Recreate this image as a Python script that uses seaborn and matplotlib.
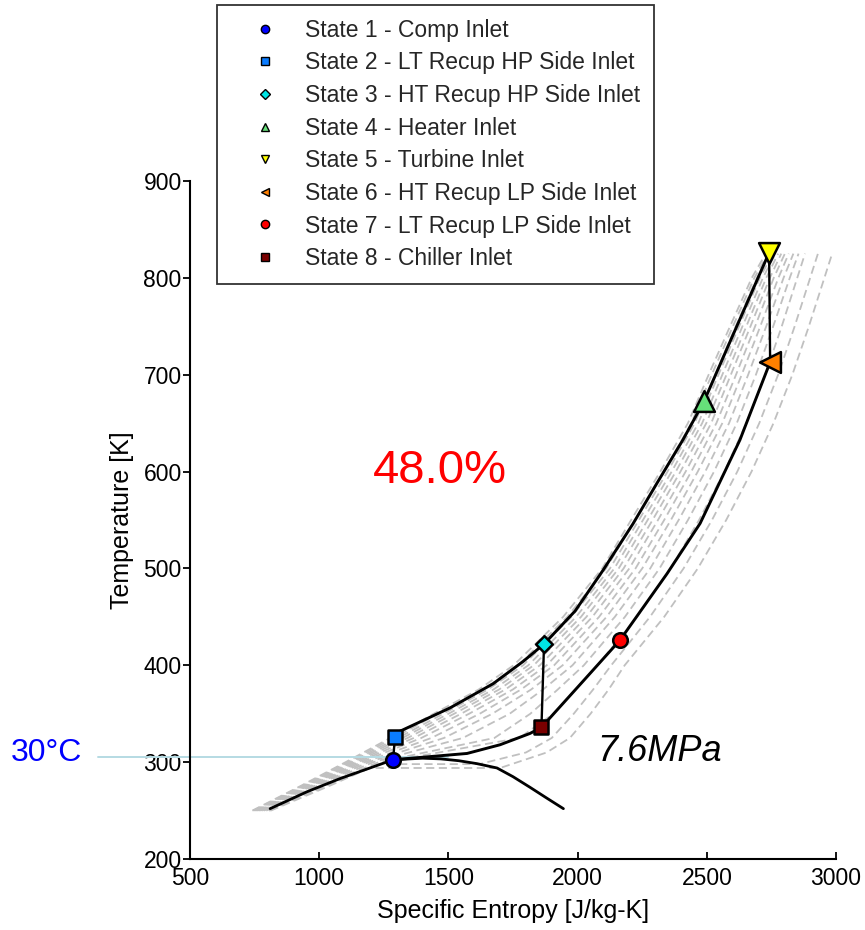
import matplotlib
matplotlib.use("Agg")
import matplotlib.pyplot as plt
import seaborn as sns
from matplotlib.lines import Line2D

sns.set_theme(style="ticks")
plt.rcParams["font.family"] = ["Liberation Sans", "DejaVu Sans"]

# ---------------- data ----------------
# temperature levels [K] at which the grey isobars are tabulated
T_GRID = [250, 275, 300, 325, 350, 375, 400, 450, 500, 550, 600, 650, 700, 750, 800, 825]

# grey isobars, entropy [J/kg-K] at T_GRID (highest pressure first)
iso_p26 = [741, 925, 1102, 1275, 1443, 1617, 1752, 1944, 2095, 2207, 2320, 2427, 2507, 2590, 2674, 2728]
iso_p25 = [745, 930, 1110, 1288, 1460, 1635, 1770, 1960, 2110, 2222, 2334, 2440, 2519, 2601, 2684, 2737]
iso_p23 = [749, 935, 1119, 1305, 1480, 1653, 1789, 1976, 2125, 2237, 2348, 2453, 2532, 2612, 2694, 2746]
iso_p22 = [753, 941, 1128, 1322, 1500, 1674, 1809, 1994, 2142, 2253, 2364, 2467, 2545, 2625, 2705, 2755]
iso_p20 = [757, 947, 1139, 1342, 1522, 1696, 1830, 2013, 2159, 2271, 2380, 2482, 2560, 2638, 2717, 2765]
iso_p18 = [761, 953, 1150, 1366, 1549, 1720, 1854, 2034, 2178, 2290, 2398, 2498, 2576, 2653, 2730, 2776]
iso_p16 = [767, 961, 1162, 1395, 1580, 1749, 1880, 2057, 2200, 2311, 2418, 2517, 2593, 2669, 2744, 2788]
iso_p15 = [772, 969, 1176, 1434, 1621, 1781, 1909, 2083, 2224, 2335, 2440, 2537, 2613, 2687, 2759, 2802]
iso_p13 = [779, 978, 1191, 1483, 1670, 1820, 1942, 2112, 2250, 2361, 2465, 2560, 2635, 2707, 2777, 2817]
iso_p11 = [786, 988, 1209, 1556, 1737, 1866, 1980, 2144, 2281, 2391, 2494, 2586, 2660, 2730, 2797, 2835]
iso_p9 = [795, 1000, 1230, 1678, 1817, 1923, 2024, 2183, 2317, 2427, 2528, 2616, 2690, 2757, 2821, 2855]
iso_p7_6 = [805, 1015, 1255, 1775, 1906, 1991, 2077, 2230, 2360, 2470, 2568, 2653, 2726, 2790, 2850, 2880]

# sub-critical grey isobars (own temperature lists, with the two-phase plateau)
iso_p6_5_T = [250, 275, 298, 298, 310, 325, 350, 375, 400, 450, 500, 550, 600, 650, 700, 750, 800, 825]
iso_p6_5_s = [808, 1025, 1230, 1620, 1800, 1900, 1985, 2060, 2130, 2280, 2410, 2520, 2618, 2703, 2776, 2840, 2900, 2930]
iso_p5_8_T = [250, 275, 294, 294, 310, 325, 350, 375, 400, 450, 500, 550, 600, 650, 700, 750, 800, 825]
iso_p5_8_s = [812, 1035, 1195, 1700, 1880, 1970, 2050, 2120, 2182, 2335, 2465, 2575, 2673, 2758, 2831, 2895, 2955, 2985]

# saturation dome
DOME_S = [810, 953, 1080, 1286, 1400, 1470, 1540, 1610, 1688, 1750, 1816, 1880, 1945]
DOME_T = [252, 269.5, 283, 302.5, 304.1, 303.4, 301.5, 298.5, 294, 285, 274, 263, 252]

# cycle high-pressure path (state 2 -> 5) and low-pressure path (state 6 -> 1)
HP_S = [1293, 1313, 1506, 1673, 1789, 1870, 1990, 2098, 2214, 2307, 2408, 2490, 2593, 2741]
HP_T = [326, 332, 356, 381, 404, 422, 456, 498, 546, 588, 633, 673, 736, 826]
LP_S = [2745, 2628, 2474, 2346, 2164, 2021, 1860, 1816, 1700, 1572, 1440, 1286]
LP_T = [713, 632.6, 546.5, 494.6, 426, 383.6, 336, 329.7, 318, 309, 306, 302.5]

# cycle states
STATE_LABELS = ["State 1 - Comp Inlet", "State 2 - LT Recup HP Side Inlet",
                "State 3 - HT Recup HP Side Inlet", "State 4 - Heater Inlet",
                "State 5 - Turbine Inlet", "State 6 - HT Recup LP Side Inlet",
                "State 7 - LT Recup LP Side Inlet", "State 8 - Chiller Inlet"]
STATE_S = [1286, 1293, 1870, 2490, 2741, 2745, 2164, 1860]
STATE_T = [302.5, 326, 422, 673, 826, 713, 426, 336]

# 30 degC reference line
REF_S = [144, 1500]
REF_T = [305, 305]

EFFICIENCY_TEXT = "48.0%"
PRESSURE_TEXT = "7.6MPa"

# ---------------- style ----------------
MARKERS = ["o", "s", "D", "^", "v", "<", "o", "s"]
COLORS = ["#0000ff", "#0a7cff", "#00e5e5", "#66e07a", "#ffff00", "#ff8000", "#ff0000", "#7a0000"]
MSIZES = [10.5, 10.5, 8.5, 15, 15, 15, 10.5, 10.5]

fig = plt.figure(figsize=(8.65, 9.3), dpi=100)
ax = fig.add_axes([0.2197, 0.0763, 0.7468, 0.7291])

gray = "#c0c0c0"
dash_kw = dict(color=gray, lw=1.3, dashes=(4.5, 2.5), sort=False, estimator=None, ax=ax, zorder=1)
for iso in [iso_p26, iso_p25, iso_p23, iso_p22, iso_p20, iso_p18, iso_p16,
            iso_p15, iso_p13, iso_p11, iso_p9, iso_p7_6]:
    sns.lineplot(x=iso, y=T_GRID, **dash_kw)
sns.lineplot(x=iso_p6_5_s, y=iso_p6_5_T, **dash_kw)
sns.lineplot(x=iso_p5_8_s, y=iso_p5_8_T, **dash_kw)

ax.plot(REF_S, REF_T, color="#b5dbe3", lw=1.4, clip_on=False, zorder=1.5)

blk = dict(color="black", sort=False, estimator=None, ax=ax, zorder=2)
sns.lineplot(x=DOME_S, y=DOME_T, lw=2.0, **blk)
sns.lineplot(x=HP_S, y=HP_T, lw=2.1, **blk)
sns.lineplot(x=LP_S, y=LP_T, lw=2.1, **blk)
for a, b in [(0, 1), (2, 7), (4, 5)]:
    sns.lineplot(x=[STATE_S[a], STATE_S[b]], y=[STATE_T[a], STATE_T[b]], lw=1.7, **blk)

for i in range(8):
    sns.scatterplot(x=[STATE_S[i]], y=[STATE_T[i]], marker=MARKERS[i], s=MSIZES[i] ** 2,
                    color=COLORS[i], edgecolor="black", linewidth=1.8, zorder=5, ax=ax)

ax.set_xlim(500, 3000)
ax.set_ylim(200, 900)
ax.set_xticks([500, 1000, 1500, 2000, 2500, 3000])
ax.set_yticks([200, 300, 400, 500, 600, 700, 800, 900])
sns.despine(ax=ax)
for sp in ["left", "bottom"]:
    ax.spines[sp].set_linewidth(1.5)
    ax.spines[sp].set_color("black")
ax.tick_params(axis="x", direction="in", length=5, width=1.3, labelsize=16.5, pad=6, colors="black")
ax.tick_params(axis="y", direction="out", length=5, width=1.3, labelsize=16.5, pad=1, colors="black")
ax.set_xlabel("Specific Entropy [J/kg-K]", fontsize=18, labelpad=6, color="black")
ax.set_ylabel("Temperature [K]", fontsize=18, labelpad=7, color="black")

ax.text(1467, 601, EFFICIENCY_TEXT, color="red", fontsize=34, ha="center", va="center")
ax.text(2319, 311, PRESSURE_TEXT, color="black", fontsize=26, style="italic", ha="center", va="center")
fig.text(46 / 865, 1 - 753 / 930, "30°C", color="#0000ff", fontsize=23, ha="center", va="center")

handles = [Line2D([], [], linestyle="none", marker=MARKERS[i], markersize=6 if MARKERS[i] != "D" else 5,
                  markerfacecolor=COLORS[i], markeredgecolor="black", markeredgewidth=1.0)
           for i in range(8)]
leg = fig.legend(handles, STATE_LABELS, loc="upper left", bbox_to_anchor=(217 / 865, 1 - 5 / 930),
                 bbox_transform=fig.transFigure, fontsize=16.5, frameon=True, fancybox=False,
                 borderpad=0.6, handlelength=3.0, handletextpad=0.25, labelspacing=0.42,
                 borderaxespad=0)
leg.get_frame().set_edgecolor("black")
leg.get_frame().set_linewidth(1.3)

fig.savefig("out.png", dpi=100, facecolor="white")
